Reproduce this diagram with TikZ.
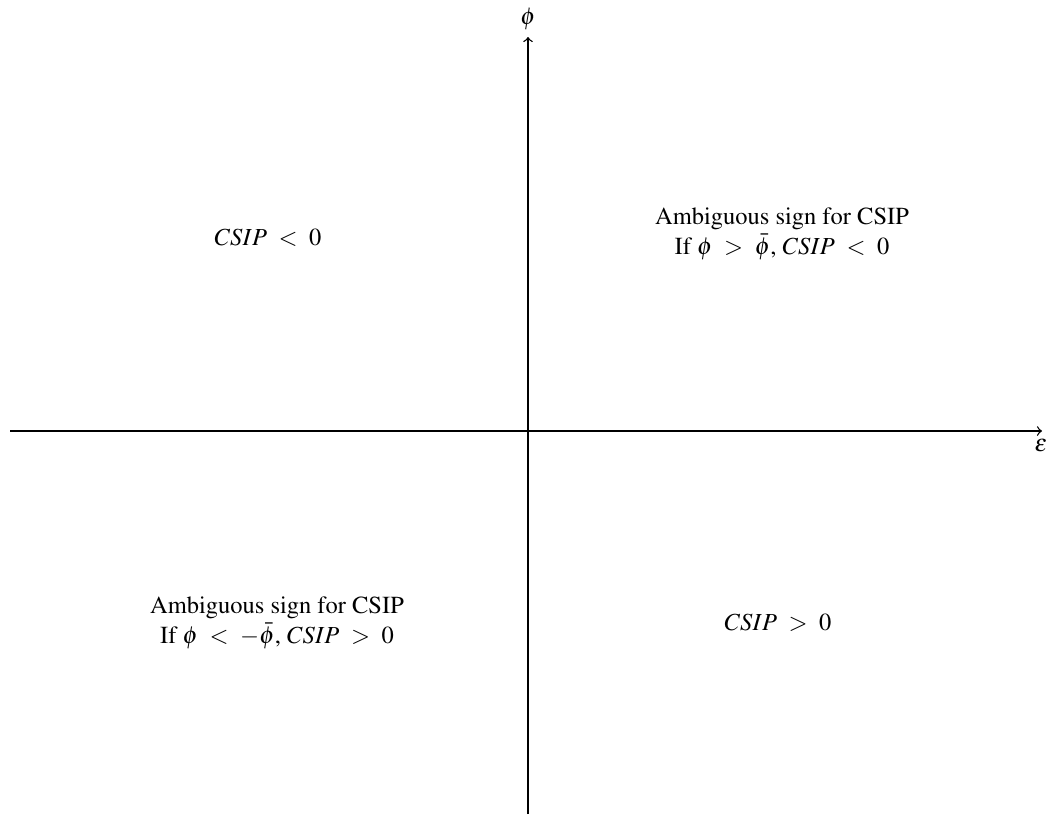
\documentclass[tikz,border=0pt]{standalone}
\usepackage[T1]{fontenc}
\usepackage{mathptmx}
\begin{document}
\begin{tikzpicture}[x=0.0145cm,y=-0.0145cm,
  axis/.style={->,line width=0.55pt},
  region/.style={align=center,inner sep=1pt,scale=1.01}]
\useasboundingbox (0,0) rectangle (1053,814);
% axes
\coordinate (xl) at (10,431);
\coordinate (xr) at (1042,431);
\coordinate (yb) at (528,814);
\coordinate (yt) at (528,37);
\draw[axis] (xl) -- (xr);
\draw[axis] (yb) -- (yt);
\node[anchor=north,inner sep=1pt] (eps) at (1041,436) {$\varepsilon$};
\node[anchor=south,inner sep=1pt] (phi) at (528,33) {$\phi$};
% quadrant labels
\node[region] (q2) at (268,238) {$CSIP\ <\ 0$};
\node[region] (q1) at (782,234) {Ambiguous sign for CSIP\\If $\phi\ >\ \bar{\phi}$, $CSIP\ <\ 0$};
\node[region] (q3) at (277,623) {Ambiguous sign for CSIP\\If $\phi\ <\ -\bar{\phi}$, $CSIP\ >\ 0$};
\node[region] (q4) at (778,623) {$CSIP\ >\ 0$};
\end{tikzpicture}
\end{document}
